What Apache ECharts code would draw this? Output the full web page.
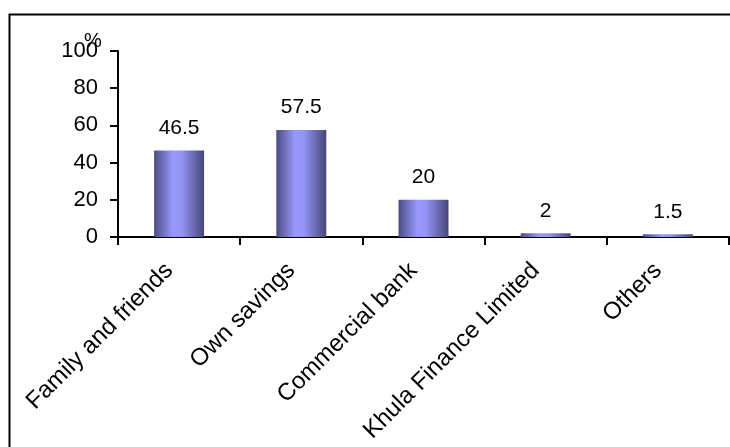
<!DOCTYPE html>
<html>
<head>
<meta charset="utf-8">
<script src="https://cdn.jsdelivr.net/npm/echarts@6/dist/echarts.min.js"></script>
<style>
html,body{margin:0;padding:0;background:#fff;}
#chart{width:730px;height:447px;}
</style>
</head>
<body>
<div id="chart"></div>
<script>
const categories = ['Family and friends', 'Own savings', 'Commercial bank', 'Khula Finance Limited', 'Others'];
const values = [46.5, 57.5, 20, 2, 1.5];
const yTicks = [0, 20, 40, 60, 80, 100];

const chart = echarts.init(document.getElementById('chart'), null, {renderer: 'canvas'});
const font = '"Liberation Sans", Arial, sans-serif';
const barGrad = new echarts.graphic.LinearGradient(0, 0, 1, 0, [
  {offset: 0, color: '#4c4c82'},
  {offset: 0.38, color: '#9999ff'},
  {offset: 0.55, color: '#9494f4'},
  {offset: 1, color: '#46467a'}
]);
chart.setOption({
  animation: false,
  backgroundColor: '#fff',
  graphic: [
    {type: 'rect', left: 7, top: 12, shape: {width: 740, height: 460}, style: {fill: 'none', stroke: '#000', lineWidth: 2}, silent: true},
    {type: 'text', left: 84, top: 31, style: {text: '%', fontSize: 20, fontFamily: font, fill: '#000'}}
  ],
  grid: {left: 118, top: 51, right: 1, bottom: 210, containLabel: false},
  xAxis: {
    type: 'category',
    data: categories,
    boundaryGap: true,
    axisLine: {lineStyle: {color: '#000', width: 2}},
    axisTick: {show: true, length: 8, lineStyle: {color: '#000', width: 2}, alignWithLabel: false},
    axisLabel: {rotate: 45, margin: 20, padding: [0, 14, 0, 0], color: '#000', fontSize: 24, fontFamily: font, interval: 0}
  },
  yAxis: {
    type: 'value',
    min: yTicks[0],
    max: yTicks[yTicks.length - 1],
    interval: 20,
    axisLine: {show: true, lineStyle: {color: '#000', width: 2}},
    axisTick: {show: true, length: 8, lineStyle: {color: '#000', width: 2}},
    splitLine: {show: false},
    axisLabel: {margin: 20, color: '#000', fontSize: 22, fontFamily: font}
  },
  series: [{
    type: 'bar',
    data: values,
    barWidth: 50,
    itemStyle: {color: barGrad},
    label: {show: true, position: 'top', distance: 12, color: '#000', fontSize: 21, fontFamily: font}
  }]
});
</script>
</body>
</html>
